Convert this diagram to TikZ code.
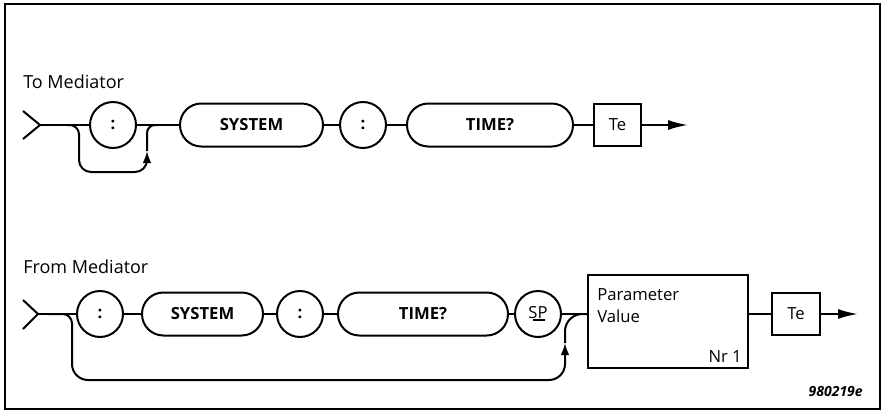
\documentclass[tikz,border=0pt]{standalone}
\usepackage{fontspec}
\setmainfont{Open Sans}
\usetikzlibrary{arrows.meta}
\begin{document}
\begin{tikzpicture}[x=0.75pt,y=-0.75pt,
  conn/.style={line width=1.5pt},
  txt/.style={font=\fontsize{12.5}{14}\selectfont},
  term/.style={draw, line width=1.5pt, circle, minimum size=34.5pt, inner sep=0pt, font=\fontsize{12.5}{14}\selectfont\bfseries},
  stad/.style={draw, line width=1.5pt, rectangle, rounded corners=16pt, minimum height=32.25pt, inner sep=0pt, font=\fontsize{12.5}{14}\selectfont\bfseries},
  termbox/.style={draw, line width=1.5pt, rectangle, inner sep=0pt, font=\fontsize{12.5}{14}\selectfont},
  lbl/.style={anchor=base west, inner sep=0pt, font=\fontsize{13.5}{15}\selectfont},
  bigarrow/.style={-{Latex[length=15pt,width=7.5pt]}},
  smallarrow/.style={-{Latex[length=9pt,width=6.5pt]}}
]
\useasboundingbox (0,0) rectangle (883,411);
\draw[line width=1.6pt] (5,4) rectangle (880,409);

% ---------- To Mediator ----------
\node[lbl] (lab1) at (23,88) {To Mediator};
\coordinate (f1) at (40,125);
\draw[conn] (23,111) -- (f1) -- (23,139);
\node[term] (c1) at (113,125) {:};
\node[stad, minimum width=107.25pt] (sys1) at (251.5,125) {SYSTEM};
\node[term] (c2) at (363,125) {:};
\node[stad, minimum width=124.5pt] (time1) at (490,125) {TIME?};
\node[termbox, minimum width=35.25pt, minimum height=31.5pt] (te1) at (617.5,125) {Te};
\coordinate (e1) at (688,125);
\draw[conn] (f1) -- (c1);
\draw[conn] (c1) -- (sys1);
\draw[conn] (sys1) -- (c2);
\draw[conn] (c2) -- (time1);
\draw[conn] (time1) -- (te1);
\draw[conn, bigarrow] (te1) -- (e1);
% bypass
\coordinate (j1) at (67,125);
\coordinate (k1) at (147,151);
\coordinate (j2) at (158,125);
\draw[conn, smallarrow] (j1) [rounded corners=7pt] -- (79,125) [rounded corners=9pt] -- (79,172) -- (147,172) -- (k1);
\draw[conn, rounded corners=6pt] (k1) -- (147,125) -- (j2);

% ---------- From Mediator ----------
\node[lbl] (lab2) at (23,273) {From Mediator};
\coordinate (f2) at (38,314);
\draw[conn] (23,300) -- (f2) -- (23,329);
\node[term] (c3) at (100,314) {:};
\node[stad, minimum width=90.75pt] (sys2) at (202.5,314) {SYSTEM};
\node[term] (c4) at (300,314) {:};
\node[stad, minimum width=127.5pt] (time2) at (423,314) {TIME?};
\node[term, font=\fontsize{12.5}{14}\selectfont] (sp) at (538,314) {\raisebox{2pt}{SP}};
\draw[line width=1pt] (533,320) -- (545,320);
\node[termbox, minimum width=120pt, minimum height=69.75pt] (par) at (668,321.5) {};
\node[lbl, font=\fontsize{12.5}{14}\selectfont] (ptxt) at (597,300) {Parameter};
\node[lbl, font=\fontsize{12.5}{14}\selectfont] (vtxt) at (597,322) {Value};
\node[anchor=base east, inner sep=0pt, txt] (nr) at (742,362) {Nr 1};
\node[termbox, minimum width=36pt, minimum height=31.5pt] (te2) at (796,314) {Te};
\coordinate (j3) at (588,314);
\coordinate (j4) at (748,314);
\coordinate (e2) at (858,314);
\draw[conn] (f2) -- (c3);
\draw[conn] (c3) -- (sys2);
\draw[conn] (sys2) -- (c4);
\draw[conn] (c4) -- (time2);
\draw[conn] (time2) -- (sp);
\draw[conn] (sp) -- (j3);
\draw[conn] (j4) -- (te2);
\draw[conn, bigarrow] (te2) -- (e2);
% bypass
\coordinate (j5) at (48,314);
\coordinate (k2) at (565,343);
\draw[conn, smallarrow] (j5) [rounded corners=7pt] -- (72,314) [rounded corners=12pt] -- (72,380) -- (565,380) -- (k2);
\draw[conn, rounded corners=13pt] (k2) -- (565,314) -- (j3);

\node[anchor=base east, inner sep=0pt, font=\fontsize{10.5}{12}\selectfont\bfseries\itshape] (code) at (863,396) {980219e};
\end{tikzpicture}
\end{document}
